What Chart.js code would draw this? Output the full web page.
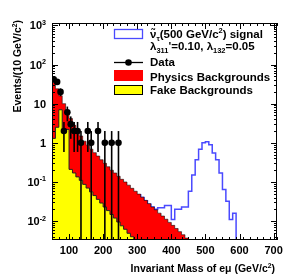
<!DOCTYPE html>
<html>
<head>
<meta charset="utf-8">
<script src="https://cdn.jsdelivr.net/npm/chart.js@4.4.0/dist/chart.umd.min.js"></script>
<style>
  html, body { margin: 0; padding: 0; background: #fff; }
  canvas { display: block; }
</style>
</head>
<body>
<canvas id="chart" width="291" height="277"></canvas>
<script>
// all histograms use 10 GeV bins
const binWidth = 10;
const X_MIN = 50, X_MAX = 710;
const Y_MIN = 0.0033, Y_MAX = 1150;

// physics backgrounds (drawn as stack total), bins from 50 GeV
const physicsStart = 50;
const physicsBkg = [35, 24, 16, 10, 6.3, 4.2, 2.8, 2.1, 1.5, 1.1,
  0.87, 0.69, 0.56, 0.46, 0.37, 0.30, 0.245, 0.20, 0.17, 0.14,
  0.117, 0.10, 0.083, 0.069, 0.058, 0.049, 0.041, 0.034, 0.028, 0.023,
  0.0195, 0.016, 0.0135, 0.0112, 0.0093, 0.0078, 0.0065, 0.0054, 0.0045, 0.0037,
  0.0031];

// fake backgrounds, bins from 50 GeV
const fakeStart = 50;
const fakeBkg = [1.3, 2.5, 7, 2.2, 2.2, 0.21, 0.17, 0.135, 0.11, 0.087,
  0.07, 0.056, 0.045, 0.036, 0.029, 0.023, 0.0186, 0.0148, 0.012, 0.0095,
  0.0076, 0.0062, 0.0049, 0.004];

// sneutrino signal, bins from 300 GeV
const signalStart = 300;
const signal = [0.047, 0.04, 0.033, 0.027, 0.023, 0.02, 0.022, 0.022, 0.025, 0.025,
  0.011, 0.02, 0.02, 0.023, 0.023, 0.058, 0.15, 0.37, 0.69, 1.0,
  1.07, 0.89, 0.55, 0.37, 0.17, 0.064, 0.032, 0.011, 0.016];

// data (bin centres and counts)
const dataX = [55, 65, 75, 85, 95, 105, 115, 125, 135, 155, 165, 185, 205, 225, 245];
const dataY = [42, 36, 20, 2, 6, 3, 2, 2, 1, 2, 1, 2, 1, 1, 1];

// axis ticks
const xTicks = [100, 200, 300, 400, 500, 600, 700];
const xMinorStep = 20;
const yTicks = [0.01, 0.1, 1, 10, 100, 1000];
const yTickLabels = [['10', '-2'], ['10', '-1'], ['1', ''], ['10', ''], ['10', '2'], ['10', '3']];

const FONT = '"Liberation Sans", Arial, Helvetica, sans-serif';

// histogram outline as step points, closed down to the axis floor
function histPoints(start, values) {
  const pts = [{x: start, y: Y_MIN}];
  values.forEach((v, i) => pts.push({x: start + i * binWidth, y: v}));
  const end = start + values.length * binWidth;
  pts.push({x: end, y: values[values.length - 1]});
  pts.push({x: end, y: Y_MIN});
  return pts;
}

// text with ^sup and _sub parts: parts = [[text, mode]], mode 0/1/-1
function richWidth(ctx, parts, size) {
  let w = 0;
  parts.forEach(([t, m]) => {
    ctx.font = 'bold ' + (m ? size * 0.65 : size) + 'px ' + FONT;
    w += ctx.measureText(t).width;
  });
  return w;
}
function drawRich(ctx, x, y, parts, size, align) {
  let cx = x;
  if (align === 'right') cx = x - richWidth(ctx, parts, size);
  if (align === 'center') cx = x - richWidth(ctx, parts, size) / 2;
  parts.forEach(([t, m]) => {
    ctx.font = 'bold ' + (m ? size * 0.65 : size) + 'px ' + FONT;
    const dy = m === 1 ? -size * 0.42 : (m === -1 ? size * 0.22 : 0);
    ctx.textAlign = 'left';
    ctx.fillText(t, cx, y + dy);
    cx += ctx.measureText(t).width;
  });
}

const errorBars = {
  id: 'errorBars',
  afterDatasetsDraw(chart) {
    const {ctx, chartArea: a, scales: {x, y}} = chart;
    ctx.save();
    ctx.beginPath();
    ctx.rect(a.left, a.top, a.width, a.height);
    ctx.clip();
    ctx.strokeStyle = '#000';
    ctx.lineWidth = 1.6;
    dataX.forEach((m, i) => {
      const n = dataY[i], e = Math.sqrt(n);
      const px = x.getPixelForValue(m);
      const lo = n - e > Y_MIN ? y.getPixelForValue(n - e) : a.bottom;
      const hi = y.getPixelForValue(n + e);
      ctx.beginPath();
      ctx.moveTo(px, lo);
      ctx.lineTo(px, hi);
      ctx.stroke();
    });
    ctx.restore();
  }
};

const frame = {
  id: 'frame',
  afterDraw(chart) {
    const {ctx, chartArea: a, scales: {x, y}} = chart;
    ctx.save();
    ctx.strokeStyle = '#000';
    ctx.fillStyle = '#000';
    ctx.lineWidth = 1;
    ctx.strokeRect(a.left + 0.5, a.top + 0.5, a.width - 1, a.height - 1);

    // ticks on all four sides
    ctx.beginPath();
    for (let v = X_MIN; v <= X_MAX; v += xMinorStep) {
      if (v % 100 === 0) continue;
      const px = Math.round(x.getPixelForValue(v)) + 0.5;
      ctx.moveTo(px, a.bottom); ctx.lineTo(px, a.bottom - 3);
      ctx.moveTo(px, a.top); ctx.lineTo(px, a.top + 3);
    }
    xTicks.forEach(v => {
      const px = Math.round(x.getPixelForValue(v)) + 0.5;
      ctx.moveTo(px, a.bottom); ctx.lineTo(px, a.bottom - 6);
      ctx.moveTo(px, a.top); ctx.lineTo(px, a.top + 6);
    });
    for (let d = 0.001; d < Y_MAX; d *= 10) {
      for (let k = 1; k <= 9; k++) {
        const v = d * k;
        if (v < Y_MIN || v > Y_MAX) continue;
        const py = Math.round(y.getPixelForValue(v)) + 0.5;
        const len = k === 1 ? 6 : 3;
        ctx.moveTo(a.left, py); ctx.lineTo(a.left + len, py);
        ctx.moveTo(a.right, py); ctx.lineTo(a.right - len, py);
      }
    }
    ctx.stroke();

    // tick labels
    ctx.textBaseline = 'alphabetic';
    xTicks.forEach(v => {
      drawRich(ctx, x.getPixelForValue(v), 254, [[String(v), 0]], 11, 'center');
    });
    yTicks.forEach((v, i) => {
      const [b, ex] = yTickLabels[i];
      const parts = ex ? [[b, 0], [ex, 1]] : [[b, 0]];
      drawRich(ctx, 46, y.getPixelForValue(v) + 4, parts, 11, 'right');
    });

    // axis titles
    drawRich(ctx, 275, 272, [['Invariant Mass of e\u03bc (GeV/c', 0], ['2', 1], [')', 0]], 10.5, 'right');
    ctx.save();
    ctx.translate(21, 20);
    ctx.rotate(-Math.PI / 2);
    drawRich(ctx, 0, 0, [['Events/(10 GeV/c', 0], ['2', 1], [')', 0]], 10.5, 'right');
    ctx.restore();

    // legend
    const lx0 = 114, lx1 = 143, tx = 150, fs = 11.5;
    ctx.fillStyle = '#fff';
    ctx.fillRect(lx0, 29, lx1 - lx0, 9);
    ctx.strokeStyle = '#4a4aff';
    ctx.lineWidth = 1.3;
    ctx.strokeRect(lx0 + 0.5, 29.5, lx1 - lx0 - 1, 9);
    ctx.fillStyle = '#000';
    drawRich(ctx, tx, 38, [['\u03bd\u0303', 0], ['\u03c4', -1], ['(500 GeV/c', 0], ['2', 1], [') signal', 0]], fs);
    drawRich(ctx, tx, 50, [['\u03bb', 0], ['311', -1], ["'=0.10, \u03bb", 0], ['132', -1], ['=0.05', 0]], fs);

    ctx.strokeStyle = '#000';
    ctx.lineWidth = 1.3;
    ctx.beginPath();
    ctx.moveTo(lx0, 62.5); ctx.lineTo(lx1, 62.5);
    ctx.stroke();
    ctx.beginPath();
    ctx.arc(128.5, 62.5, 3.3, 0, Math.PI * 2);
    ctx.fill();
    drawRich(ctx, tx, 66, [['Data', 0]], fs);

    ctx.fillStyle = '#ff0000';
    ctx.fillRect(lx0, 70, lx1 - lx0, 11);
    ctx.fillStyle = '#000';
    drawRich(ctx, tx, 81, [['Physics Backgrounds', 0]], fs);

    ctx.fillStyle = '#ffff00';
    ctx.fillRect(lx0, 85, lx1 - lx0, 9);
    ctx.strokeStyle = '#000';
    ctx.lineWidth = 1;
    ctx.strokeRect(lx0 + 0.5, 85.5, lx1 - lx0 - 1, 9);
    ctx.fillStyle = '#000';
    drawRich(ctx, tx, 94, [['Fake Backgrounds', 0]], fs);
    ctx.restore();
  }
};

new Chart(document.getElementById('chart'), {
  type: 'line',
  data: {
    datasets: [
      {
        label: 'Data',
        data: dataX.map((m, i) => ({x: m, y: dataY[i]})),
        showLine: false,
        pointRadius: 3.3,
        pointBackgroundColor: '#000',
        pointBorderWidth: 0
      },
      {
        label: 'Fake Backgrounds',
        data: histPoints(fakeStart, fakeBkg),
        stepped: true,
        fill: 'start',
        backgroundColor: '#ffff00',
        borderColor: '#222',
        borderWidth: 1,
        pointRadius: 0
      },
      {
        label: 'Physics Backgrounds',
        data: histPoints(physicsStart, physicsBkg),
        stepped: true,
        fill: 'start',
        backgroundColor: '#ff0000',
        borderColor: 'rgba(0,0,0,0.55)',
        borderWidth: 1,
        pointRadius: 0
      },
      {
        label: 'signal',
        data: histPoints(signalStart, signal),
        stepped: true,
        fill: false,
        borderColor: '#4a4aff',
        borderWidth: 1.5,
        pointRadius: 0
      }
    ]
  },
  options: {
    responsive: false,
    animation: false,
    layout: { padding: { left: 0, right: 14, top: 23, bottom: 0 } },
    plugins: { legend: { display: false }, tooltip: { enabled: false } },
    scales: {
      x: {
        type: 'linear',
        min: X_MIN,
        max: X_MAX,
        grid: { display: false },
        border: { display: false },
        ticks: { display: false },
        afterFit: s => { s.height = 37; }
      },
      y: {
        type: 'logarithmic',
        min: Y_MIN,
        max: Y_MAX,
        grid: { display: false },
        border: { display: false },
        ticks: { display: false },
        afterFit: s => { s.width = 52; }
      }
    }
  },
  plugins: [errorBars, frame]
});
</script>
</body>
</html>
